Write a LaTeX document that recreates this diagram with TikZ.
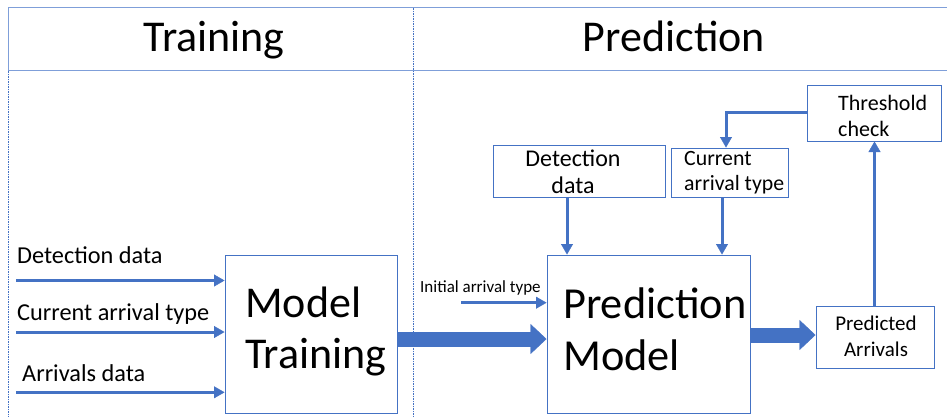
\documentclass[tikz,border=0pt]{standalone}
\usepackage{fontspec}
\setmainfont{Carlito}
\usetikzlibrary{arrows.meta}
\definecolor{ob}{HTML}{4472C4}
\definecolor{hl}{HTML}{7F9FD9}
\begin{document}
\begin{tikzpicture}[x=1pt,y=-1pt,
  box/.style={draw=ob, line width=1pt, inner sep=0pt},
  thinarrow/.style={draw=ob, line width=3pt, -{Triangle[width=12pt,length=10.5pt,line width=0.4pt]}},
  bigarrow/.style={draw=ob, line width=15pt, -{Triangle[width=30pt,length=16pt,line width=0.4pt]}},
  divider/.style={draw=ob, line width=0.7pt, dash pattern=on 2pt off 1.2pt on 0.6pt off 1.2pt},
  txt/.style={inner sep=0pt, anchor=base west}]
\useasboundingbox (0,0) rectangle (947,416);
\fill[white] (0,0) rectangle (947,416);

% header
\draw[hl, line width=1.8pt] (947,7.5) -- (8.5,7.5) -- (8.5,70.5) -- (947,70.5);
\draw[divider] (8.5,70.5) -- (8.5,416);
\draw[divider] (413.3,7.5) -- (413.3,416);
\node[inner sep=0pt, anchor=base] (htr) at (214,51) {\fontsize{44}{52}\selectfont Training};
\node[inner sep=0pt, anchor=base] (hpr) at (674,51) {\fontsize{44}{52}\selectfont Prediction};

% boxes
\node[box, minimum width=172pt, minimum height=158pt] (mt) at (311,334) {};
\node[box, minimum width=203pt, minimum height=158pt] (pm) at (648.5,334) {};
\node[box, minimum width=172pt, minimum height=52pt] (dd) at (579,171) {};
\node[box, minimum width=117pt, minimum height=49pt] (cat) at (729.5,172.5) {};
\node[box, minimum width=134pt, minimum height=56pt] (th) at (874,113) {};
\node[box, minimum width=118pt, minimum height=62pt] (pa) at (875,337) {};

% box texts
\node[txt] (mtt1) at (245,317) {\fontsize{44}{52}\selectfont Model};
\node[txt] (mtt2) at (245,368) {\fontsize{44}{52}\selectfont Training};
\node[txt] (pmt1) at (563,318) {\fontsize{44.3}{52}\selectfont Prediction};
\node[txt] (pmt2) at (563,370) {\fontsize{44.3}{52}\selectfont Model};
\node[inner sep=0pt, anchor=base] (ddt1) at (573,166) {\fontsize{24}{28}\selectfont Detection};
\node[inner sep=0pt, anchor=base] (ddt2) at (573,193) {\fontsize{24}{28}\selectfont data};
\node[txt] (catt1) at (684,165.7) {\fontsize{21.8}{26}\selectfont Current};
\node[txt] (catt2) at (684,190.7) {\fontsize{21.8}{26}\selectfont arrival type};
\node[txt] (tht1) at (838,110) {\fontsize{22}{26}\selectfont Threshold};
\node[txt] (tht2) at (838,136.7) {\fontsize{22}{26}\selectfont check};
\node[inner sep=0pt, anchor=base] (pat1) at (876,330) {\fontsize{21}{25}\selectfont Predicted};
\node[inner sep=0pt, anchor=base] (pat2) at (876,356) {\fontsize{21}{25}\selectfont Arrivals};

% left labels
\node[txt] (l1t) at (17,263) {\fontsize{24.3}{29}\selectfont Detection data};
\node[txt] (l2t) at (17,320) {\fontsize{24.3}{29}\selectfont Current arrival type};
\node[txt] (l3t) at (22,381.7) {\fontsize{24.3}{29}\selectfont Arrivals data};
\node[txt] (iat) at (420,292.7) {\fontsize{17}{20}\selectfont Initial arrival type};

% coordinates
\coordinate (l1) at (16,280.5);
\coordinate (l2) at (16,332);
\coordinate (l3) at (16,392.3);
\coordinate (ia) at (461,302.7);
\coordinate (b1) at (0,339);
\coordinate (b2) at (0,335);
\coordinate (v1) at (567,0);
\coordinate (v2) at (722,0);
\coordinate (v3) at (874.5,0);
\coordinate (v4) at (726,0);
\coordinate (h1) at (0,112.7);

% connectors
\draw[thinarrow] (l1) -- (l1 -| mt.west);
\draw[thinarrow] (l2) -- (l2 -| mt.west);
\draw[thinarrow] (l3) -- (l3 -| mt.west);
\draw[thinarrow] (ia) -- (ia -| pm.west);
\draw[bigarrow] (mt.east |- b1) -- (pm.west |- b1);
\draw[bigarrow] (pm.east |- b2) -- (pa.west |- b2);
\draw[thinarrow] (dd.south -| v1) -- (pm.north -| v1);
\draw[thinarrow] (cat.south -| v2) -- (pm.north -| v2);
\draw[thinarrow] (pa.north -| v3) -- (th.south -| v3);
\draw[thinarrow] (th.west |- h1) -| (cat.north -| v4);
\end{tikzpicture}
\end{document}
